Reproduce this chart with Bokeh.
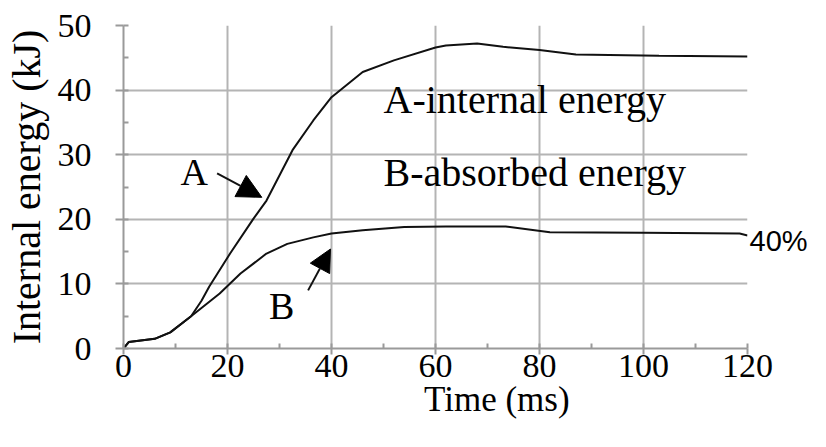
from bokeh.plotting import figure
from bokeh.models import (Range1d, SingleIntervalTicker, FixedTicker, LinearAxis,
                          Label, Arrow, NormalHead)
from bokeh.embed import file_html
from bokeh.resources import INLINE

# Curve A: internal energy (kJ) vs time (ms)
a_time = [0, 1, 6, 9, 13, 15, 16.5, 20.5, 25, 27.5, 32.5, 36.5, 40, 46, 52, 60, 62, 68, 73, 80, 87, 103, 120]
a_energy = [0, 1.0, 1.5, 2.5, 5.0, 7.4, 9.6, 14.7, 20.1, 22.9, 30.7, 35.3, 38.9, 42.8, 44.6, 46.6, 46.9, 47.2, 46.7, 46.2, 45.5, 45.3, 45.2]

# Curve B: absorbed energy (kJ) vs time (ms)
b_time = [0, 1, 6, 9, 13, 18.5, 22.5, 27.5, 31.5, 36.5, 40, 46, 54, 62, 73.5, 82, 100, 118.5, 120]
b_energy = [0, 1.0, 1.5, 2.5, 5.0, 8.5, 11.6, 14.7, 16.2, 17.2, 17.8, 18.3, 18.8, 18.9, 18.9, 18.0, 17.9, 17.8, 17.5]

x_title = "Time (ms)"
y_title = "Internal energy (kJ)"
legend_a = "A-internal energy"
legend_b = "B-absorbed energy"
pct_text = "40%"
pct_at = 16.7        # energy level where the 40% note sits
x_title_at = 71.8    # time position where the x title is centred

SERIF = "Liberation Serif"

p = figure(width=810, height=431, output_backend="svg", toolbar_location=None,
           x_range=Range1d(0, 120), y_range=Range1d(0, 50),
           min_border_left=123, min_border_right=60, min_border_top=25, min_border_bottom=83)
p.outline_line_color = None
p.background_fill_color = "white"
p.border_fill_color = "white"

p.xaxis.ticker = SingleIntervalTicker(interval=20, num_minor_ticks=2)
p.yaxis.ticker = SingleIntervalTicker(interval=10, num_minor_ticks=2)

for ax in (p.xaxis, p.yaxis):
    ax.axis_line_color = "#9a9a9a"
    ax.axis_line_width = 2
    ax.major_tick_line_color = "#9a9a9a"
    ax.major_tick_line_width = 2
    ax.minor_tick_line_color = "#9a9a9a"
    ax.minor_tick_line_width = 2
    ax.major_tick_in = 0
    ax.minor_tick_out = 0
    ax.minor_tick_in = 5
    ax.major_label_text_font = SERIF
    ax.major_label_text_font_size = "34px"
    ax.major_label_text_color = "black"

p.xaxis.major_tick_out = 6
p.xaxis.major_label_standoff = 0
p.yaxis.major_tick_out = 8
p.yaxis.major_label_standoff = 24
p.yaxis.axis_label = y_title
p.yaxis.axis_label_text_font = SERIF
p.yaxis.axis_label_text_font_size = "40px"
p.yaxis.axis_label_text_font_style = "normal"
p.yaxis.axis_label_text_color = "black"
p.yaxis.axis_label_standoff = 6

# x title as a single-label axis below the main one (so it can sit off-centre)
title_axis = LinearAxis(ticker=FixedTicker(ticks=[x_title_at]),
                        major_label_overrides={x_title_at: x_title})
title_axis.axis_line_color = None
title_axis.major_tick_line_color = None
title_axis.minor_tick_line_color = None
title_axis.major_tick_out = 0
title_axis.major_tick_in = 0
title_axis.major_label_standoff = 0
title_axis.major_label_text_font = SERIF
title_axis.major_label_text_font_size = "35px"
title_axis.major_label_text_color = "black"
p.add_layout(title_axis, "below")

# 40% note as a single-label axis on the right
pct_axis = LinearAxis(ticker=FixedTicker(ticks=[pct_at]),
                      major_label_overrides={pct_at: pct_text})
pct_axis.axis_line_color = None
pct_axis.major_tick_line_color = None
pct_axis.minor_tick_line_color = None
pct_axis.major_tick_out = 0
pct_axis.major_tick_in = 0
pct_axis.major_label_standoff = 2
pct_axis.major_label_text_font = "Liberation Sans"
pct_axis.major_label_text_font_size = "29px"
pct_axis.major_label_text_color = "black"
p.add_layout(pct_axis, "right")

for g in (p.xgrid, p.ygrid):
    g.grid_line_color = "#b4b4b4"
    g.grid_line_width = 2

p.line(a_time, a_energy, line_color="#111111", line_width=2)
p.line(b_time, b_energy, line_color="#111111", line_width=2)

# arrows
p.add_layout(Arrow(x_start=18.0, y_start=27.1, x_end=26.6, y_end=23.4,
                   line_color="#111111", line_width=2,
                   end=NormalHead(size=24, fill_color="black", line_color="black")))
p.add_layout(Arrow(x_start=35.5, y_start=9.0, x_end=39.8, y_end=15.4,
                   line_color="#111111", line_width=2,
                   end=NormalHead(size=22, fill_color="black", line_color="black")))

def lab(x, y, t, size, align="left"):
    p.add_layout(Label(x=x, y=y, text=t, text_font=SERIF, text_font_size=size,
                       text_align=align, text_baseline="middle", text_color="black"))

lab(13.6, 27.3, "A", "38px", align="center")
lab(30.4, 6.6, "B", "38px", align="center")
lab(50.0, 38.6, legend_a, "40px")
lab(50.0, 27.3, legend_b, "40px")

open("out.html", "w").write(file_html(p, INLINE))
